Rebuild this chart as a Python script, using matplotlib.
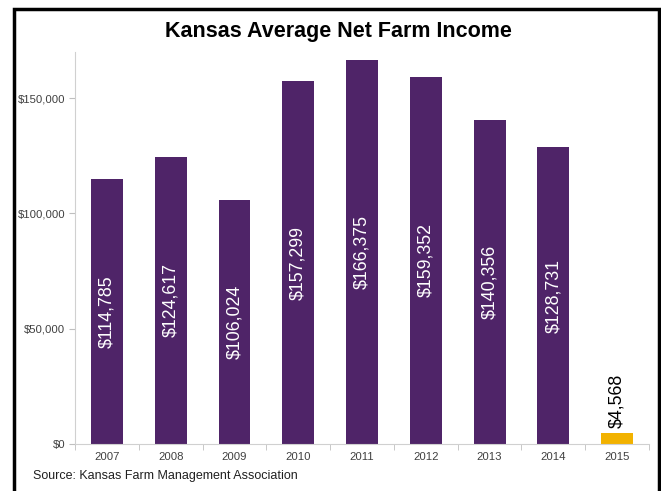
import matplotlib
matplotlib.use("Agg")
import matplotlib.pyplot as plt
from matplotlib.patches import Rectangle
from matplotlib.ticker import FuncFormatter, FixedLocator

years = ['2007', '2008', '2009', '2010', '2011', '2012', '2013', '2014', '2015']
income = [114785, 124617, 106024, 157299, 166375, 159352, 140356, 128731, 4568]

purple = '#4F2468'
gold = '#F2B200'
colors = [purple] * 8 + [gold]

plt.rcParams['font.family'] = ['Liberation Sans', 'DejaVu Sans']

fig = plt.figure(figsize=(6.61, 4.91), dpi=100)
ax = fig.add_axes([75 / 661, 1 - 444 / 491, (649 - 75) / 661, (444 - 52) / 491])

x = list(range(len(years)))
ax.bar(x, income, width=0.5, color=colors, zorder=2)

# value labels: white inside the tall bars, black above the small one
for xi, v in zip(x, income):
    txt = '${:,}'.format(v)
    if v > 20000:
        ax.text(xi, v / 2, txt, rotation=90, ha='center', va='center',
                color='white', fontsize=12.8)
    else:
        ax.text(xi, v + 2500, txt, rotation=90, ha='center', va='bottom',
                color='black', fontsize=12.8)

ax.set_xlim(-0.5, len(years) - 0.5)
ax.set_ylim(0, 170000)
ax.set_yticks([0, 50000, 100000, 150000])
ax.yaxis.set_major_formatter(FuncFormatter(lambda v, p: '${:,.0f}'.format(v)))
ax.set_xticks(x)
ax.set_xticklabels(years)
ax.xaxis.set_minor_locator(FixedLocator([i + 0.5 for i in range(-1, len(years))]))
ax.tick_params(axis='x', which='major', length=0, labelsize=8.2, colors='#404040', pad=6)
ax.tick_params(axis='x', which='minor', length=4, color='#BFBFBF', direction='out')
ax.tick_params(axis='y', length=4, color='#BFBFBF', labelsize=8.2, labelcolor='#404040', pad=3)

for s in ['top', 'right']:
    ax.spines[s].set_visible(False)
for s in ['left', 'bottom']:
    ax.spines[s].set_color('#D0D0D0')
    ax.spines[s].set_linewidth(0.8)

fig.text(338 / 661, 1 - 31 / 491, 'Kansas Average Net Farm Income', ha='center', va='center',
         fontsize=15.5, fontweight='bold', color='black')
fig.text(33 / 661, 1 - 476 / 491, 'Source: Kansas Farm Management Association', ha='left',
         va='center', fontsize=9, color='#202020')

# frame around the whole chart
fig.patches.append(Rectangle((14 / 661, -0.05), (659 - 14) / 661, 1.05 - 9 / 491,
                             transform=fig.transFigure, fill=False, edgecolor='black',
                             linewidth=2.5, clip_on=False))

fig.savefig('out.png', dpi=100)
